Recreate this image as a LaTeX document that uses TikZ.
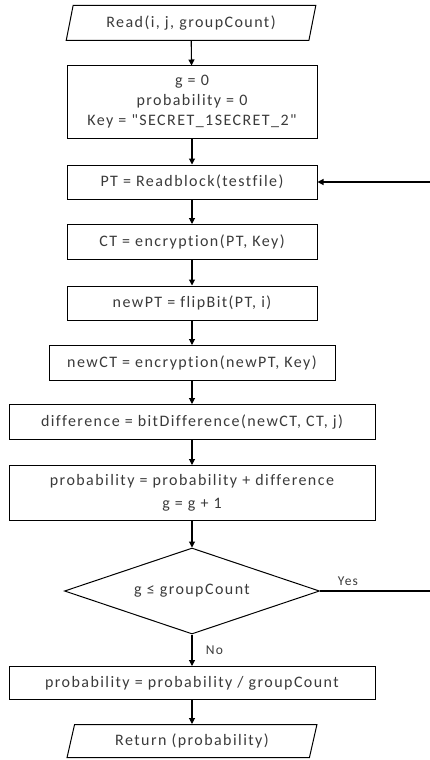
\documentclass[tikz,border=0pt]{standalone}
\usepackage{fontspec}
\setmainfont{Carlito}[LetterSpace=9,Ligatures={NoCommon,TeXOff}]
\usepackage{tikz}
\usetikzlibrary{arrows.meta,positioning,shapes.geometric}
\definecolor{FlowLine}{HTML}{000000}
\definecolor{FlowText}{HTML}{3A3A3A}
\tikzset{
  flowarrow/.style={-{Triangle[length=6pt,width=6pt]},line width=1.1pt,draw=FlowLine},
  stepbox/.style={draw=FlowLine,line width=1pt,align=center,inner sep=0pt,text=FlowText,font=\fontsize{16}{20}\selectfont},
  iobox/.style={stepbox,trapezium,trapezium left angle=71,trapezium right angle=109,trapezium stretches=true},
  decision/.style={stepbox,diamond,aspect=3},
  branch/.style={text=FlowText,font=\fontsize{13.5}{15}\selectfont}
}

\begin{document}
\begin{tikzpicture}[x=1pt,y=-1pt]
  \useasboundingbox (0,0) rectangle (429,760);
  \node[iobox,minimum width=250pt,minimum height=35pt] (read) at (191,23) {Read(i, j, groupCount)};
  \node[stepbox,minimum width=250pt,minimum height=72pt] (init) at (192,102)
    {g = 0\\probability = 0\\Key = "SECRET\_1SECRET\_2"};
  \node[stepbox,minimum width=250pt,minimum height=34pt] (pt) at (192,182) {PT = Readblock(testfile)};
  \node[stepbox,minimum width=250pt,minimum height=35pt] (ct) at (192,242) {CT = encryption(PT, Key)};
  \node[stepbox,minimum width=250pt,minimum height=34pt] (newpt) at (192,303) {newPT = flipBit(PT, i)};
  \node[stepbox,minimum width=286pt,minimum height=35pt] (newct) at (192,363) {newCT = encryption(newPT, Key)};
  \node[stepbox,minimum width=366pt,minimum height=35pt] (diff) at (192,422) {difference = bitDifference(newCT, CT, j)};
  \node[stepbox,minimum width=366pt,minimum height=55pt,font=\fontsize{16}{23}\selectfont] (prob) at (192,493)
    {probability = probability + difference\\g = g + 1};
  \node[decision,minimum width=255pt,minimum height=86pt] (test) at (192,591) {g ≤ groupCount};
  \node[stepbox,minimum width=366pt,minimum height=33pt] (avg) at (192,683) {probability = probability / groupCount};
  \node[iobox,minimum width=250pt,minimum height=33pt] (ret) at (192,741) {Return (probability)};
  \coordinate (loop) at (432,591);

  \draw[flowarrow] (read) -- (init);
  \draw[flowarrow] (init) -- (pt);
  \draw[flowarrow] (pt) -- (ct);
  \draw[flowarrow] (ct) -- (newpt);
  \draw[flowarrow] (newpt) -- (newct);
  \draw[flowarrow] (newct) -- (diff);
  \draw[flowarrow] (diff) -- (prob);
  \draw[flowarrow] (prob) -- (test);
  \draw[flowarrow] (test) -- node[branch,right=10pt] {No} (avg);
  \draw[flowarrow] (avg) -- (ret);
  \draw[flowarrow] (test.east) -- node[branch,above=2pt,pos=0.25] {Yes} (loop) |- (pt.east);
\end{tikzpicture}
\end{document}
